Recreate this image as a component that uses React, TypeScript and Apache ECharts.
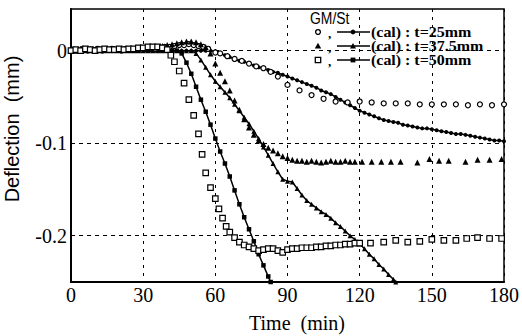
import React, { useEffect, useRef } from "react";
import * as echarts from "echarts";

const xTicks = [0, 30, 60, 90, 120, 150, 180];
const yGridValues = [0, -0.1, -0.2];
const legendLabels = ["(cal) : t=25mm", "(cal) : t=37.5mm", "(cal) : t=50mm"];
const legendTitle = "GM/St";
const xName = "Time  (min)";
const yName = "Deflection  (mm)";

// measured, t = 25 mm (open circles)
const exp25: [number, number][] = [
  [1, 0.001], [3, 0], [5, 0.002], [7, 0], [9, 0.001], [11, 0.002], [13, 0], [15, 0.001], [17, 0.002], [19, 0.001],
  [21, 0], [23, 0.002], [25, 0.001], [27, 0.002], [29, 0.001], [31, 0.002], [33, 0.003], [35, 0.002], [37, 0.003], [39, 0.004],
  [41, 0.004], [43, 0.005], [45, 0.006], [47, 0.006], [49, 0.007], [51, 0.006], [53, 0.005], [55, 0.004], [57, 0.002], [60, -0.002],
  [62, -0.003], [65, -0.006], [68, -0.009], [71, -0.011], [74, -0.014], [77, -0.017], [80, -0.019], [83, -0.023], [86, -0.028],
  [90, -0.037], [95, -0.043], [100, -0.048], [105, -0.052], [110, -0.055], [115, -0.056], [120, -0.055], [125, -0.056],
  [130, -0.057], [135, -0.057], [140, -0.057], [145, -0.058], [150, -0.058], [155, -0.058], [160, -0.058], [165, -0.059],
  [170, -0.058], [175, -0.059], [180, -0.058],
];

// calculated, t = 25 mm
const cal25: [number, number][] = [
  [0, 0], [2, 0], [4, 0], [6, 0], [8, 0], [10, 0], [12, 0], [14, 0], [16, 0], [18, 0], [20, 0], [22, 0], [24, 0], [26, 0],
  [28, 0], [30, 0], [32, 0], [34, 0], [36, 0], [38, 0], [40, 0], [42, 0], [44, 0], [46, 0], [48, 0], [50, 0], [52, 0], [54, 0],
  [56, 0], [58, 0], [60, -0.001], [62, -0.003], [64, -0.005], [66, -0.007], [68, -0.009], [70, -0.011], [72, -0.012],
  [74, -0.014], [76, -0.016], [78, -0.018], [80, -0.019], [82, -0.021], [84, -0.023], [86, -0.024], [88, -0.026],
  [90, -0.028], [92, -0.03], [94, -0.032], [96, -0.034], [98, -0.036], [100, -0.038], [102, -0.04], [104, -0.043],
  [106, -0.045], [108, -0.047], [110, -0.05], [112, -0.053], [114, -0.056], [116, -0.059], [118, -0.062], [120, -0.065],
  [122, -0.067], [124, -0.069], [126, -0.071], [128, -0.073], [130, -0.075], [132, -0.076], [134, -0.077], [136, -0.078],
  [138, -0.08], [140, -0.081], [142, -0.082], [144, -0.083], [146, -0.084], [148, -0.084], [150, -0.085], [152, -0.086],
  [154, -0.087], [156, -0.088], [158, -0.089], [160, -0.09], [162, -0.09], [164, -0.091], [166, -0.092], [168, -0.093],
  [170, -0.094], [172, -0.095], [174, -0.096], [176, -0.097], [178, -0.097], [180, -0.098],
];

// measured, t = 37.5 mm (filled triangles)
const exp375: [number, number][] = [
  [0, 0.001], [2, 0], [4, 0.002], [6, 0.001], [8, 0.002], [10, 0.001], [12, 0.002], [14, 0.001], [16, 0.001], [18, 0.002],
  [20, 0.001], [22, 0.002], [24, 0.002], [26, 0.001], [28, 0.002], [30, 0.003], [32, 0.003], [34, 0.004], [36, 0.004],
  [38, 0.005], [40, 0.006], [42, 0.007], [44, 0.008], [46, 0.009], [48, 0.01], [50, 0.01], [52, 0.009], [54, 0.007],
  [56, 0.004], [58, -0.003], [60, -0.014], [62, -0.024], [64, -0.033], [66, -0.043], [68, -0.054], [70, -0.064],
  [72, -0.074], [74, -0.083], [76, -0.091], [78, -0.097], [80, -0.101], [82, -0.105], [84, -0.108], [86, -0.111],
  [88, -0.114], [90, -0.116], [92, -0.118], [94, -0.119], [96, -0.119], [98, -0.12], [100, -0.119], [102, -0.12],
  [104, -0.121], [106, -0.12], [108, -0.119], [110, -0.12], [112, -0.12], [114, -0.119], [116, -0.12], [118, -0.12],
  [121, -0.12], [125, -0.12], [129, -0.12], [133, -0.12], [137, -0.12], [144, -0.121], [149, -0.117], [153, -0.119],
  [157, -0.119], [164, -0.12], [169, -0.118], [174, -0.118], [179, -0.117],
];

// calculated, t = 37.5 mm
const cal375: [number, number][] = [
  [0, 0], [2, 0], [4, 0], [6, 0], [8, 0], [10, 0], [12, 0], [14, 0], [16, 0], [18, 0], [20, 0], [22, 0], [24, 0], [26, 0],
  [28, 0], [30, 0], [32, 0], [34, 0], [36, 0], [38, 0], [40, 0], [42, 0], [44, 0], [46, 0], [48, 0], [50, 0],
  [52, -0.003], [54, -0.01], [56, -0.018], [58, -0.026], [60, -0.033], [62, -0.039], [64, -0.045], [66, -0.051],
  [68, -0.058], [70, -0.065], [72, -0.072], [74, -0.079], [76, -0.087], [78, -0.095], [80, -0.104], [82, -0.113],
  [84, -0.122], [86, -0.131], [88, -0.139], [90, -0.141], [92, -0.142], [94, -0.149], [96, -0.156], [98, -0.162],
  [100, -0.166], [102, -0.17], [104, -0.174], [106, -0.177], [108, -0.181], [110, -0.186], [112, -0.19], [114, -0.195],
  [116, -0.2], [118, -0.204], [120, -0.209], [122, -0.214], [124, -0.22], [126, -0.225], [128, -0.231], [130, -0.236],
  [132, -0.242], [134, -0.247], [135, -0.25],
];

// measured, t = 50 mm (open squares)
const exp50: [number, number][] = [
  [0, 0], [2, 0.001], [4, 0], [6, 0.002], [8, 0.001], [10, 0], [12, 0.001], [14, 0.002], [16, 0.001], [18, 0.001],
  [20, 0.002], [22, 0.001], [24, 0.002], [26, 0.002], [28, 0.003], [30, 0.003], [32, 0.004], [34, 0.004], [36, 0.004],
  [38, 0.003], [40, 0.001], [41.5, -0.005], [43, -0.012], [45, -0.022], [47, -0.035], [49, -0.053], [51, -0.07],
  [53, -0.09], [54.5, -0.112], [56, -0.132], [58, -0.148], [60, -0.16], [61.5, -0.171], [63, -0.181], [64.5, -0.19],
  [66, -0.196], [68, -0.202], [70, -0.207], [72, -0.21], [74, -0.212], [76, -0.214], [78, -0.216], [80, -0.215],
  [82, -0.214], [84, -0.214], [86, -0.216], [88, -0.218], [90, -0.215], [92, -0.214], [94, -0.214], [96, -0.213],
  [98, -0.213], [100, -0.213], [102, -0.212], [104, -0.212], [106, -0.211], [108, -0.211], [110, -0.21], [112, -0.21],
  [114, -0.209], [116, -0.209], [118, -0.208], [120, -0.208], [124.5, -0.208], [130, -0.207], [135, -0.205],
  [140, -0.207], [145, -0.206], [150, -0.204], [155, -0.205], [160, -0.205], [164.5, -0.203], [169, -0.202],
  [174, -0.203], [179, -0.203],
];

// calculated, t = 50 mm
const cal50: [number, number][] = [
  [0, 0], [2, 0], [4, 0], [6, 0], [8, 0], [10, 0], [12, 0], [14, 0], [16, 0], [18, 0], [20, 0], [22, 0], [24, 0], [26, 0],
  [28, 0], [30, 0], [32, 0], [34, 0], [36, 0], [38, 0], [40, 0], [42, 0], [44, 0], [46, -0.003], [48, -0.013],
  [50, -0.025], [52, -0.039], [54, -0.053], [56, -0.066], [58, -0.08], [60, -0.095], [62, -0.109], [64, -0.122],
  [66, -0.136], [68, -0.151], [70, -0.166], [72, -0.18], [74, -0.193], [76, -0.206], [78, -0.22], [80, -0.232],
  [82, -0.244], [83, -0.25],
];

const SERIF = '"Liberation Serif", "Times New Roman", serif';
const SANS = '"Liberation Sans", Arial, sans-serif';

export default function App() {
  const ref = useRef<HTMLDivElement>(null);

  useEffect(() => {
    if (!ref.current) return;
    const chart = echarts.init(ref.current, null, { renderer: "svg" });

    const rowY = [32, 46, 60];
    const symX = 318;
    const lineX1 = 337;
    const lineX2 = 370;
    const mkX = 353;
    const legendGraphics: any[] = [
      {
        type: "text",
        x: 310,
        y: 18,
        scaleX: 0.82,
        style: { text: legendTitle, font: `17px ${SANS}`, fill: "#000", align: "left", verticalAlign: "middle" },
      },
    ];
    rowY.forEach((y, i) => {
      if (i === 0) {
        legendGraphics.push({ type: "circle", shape: { cx: symX, cy: y, r: 2.4 }, style: { fill: "#fff", stroke: "#000", lineWidth: 1.3 } });
      } else if (i === 1) {
        legendGraphics.push({ type: "polygon", shape: { points: [[symX, y - 3.2], [symX + 3.2, y + 2.6], [symX - 3.2, y + 2.6]] }, style: { fill: "#000" } });
      } else {
        legendGraphics.push({ type: "rect", shape: { x: symX - 2.7, y: y - 2.7, width: 5.4, height: 5.4 }, style: { fill: "#fff", stroke: "#000", lineWidth: 1.3 } });
      }
      legendGraphics.push({ type: "text", x: 328, y: y + 1, style: { text: ",", font: `bold 13px ${SERIF}`, fill: "#000", verticalAlign: "middle" } });
      legendGraphics.push({ type: "line", shape: { x1: lineX1, y1: y, x2: lineX2, y2: y }, style: { stroke: "#000", lineWidth: 1.3 } });
      if (i === 0) {
        legendGraphics.push({ type: "circle", shape: { cx: mkX, cy: y, r: 2.4 }, style: { fill: "#000" } });
      } else if (i === 1) {
        legendGraphics.push({ type: "polygon", shape: { points: [[mkX, y - 3], [mkX + 3, y + 2.4], [mkX - 3, y + 2.4]] }, style: { fill: "#000" } });
      } else {
        legendGraphics.push({ type: "rect", shape: { x: mkX - 2.4, y: y - 2.4, width: 4.8, height: 4.8 }, style: { fill: "#000" } });
      }
      legendGraphics.push({
        type: "text",
        x: 371,
        y: y,
        scaleX: 1.1,
        style: { text: legendLabels[i], font: `bold 14.5px ${SERIF}`, fill: "#000", align: "left", verticalAlign: "middle" },
      });
    });

    const option: any = {
      animation: false,
      backgroundColor: "#fff",
      grid: { left: 71, right: 16, top: 9, bottom: 54, show: true, borderColor: "#000", borderWidth: 1.5 },
      xAxis: {
        type: "value",
        min: xTicks[0],
        max: xTicks[xTicks.length - 1],
        interval: 30,
        axisLine: { show: true, onZero: false, lineStyle: { color: "#000", width: 2 } },
        axisTick: { show: false },
        axisLabel: { color: "#000", fontSize: 20, fontFamily: SERIF, margin: 3 },
        splitLine: { show: true, lineStyle: { color: "#000", width: 1, type: [3, 5] } },
      },
      yAxis: {
        type: "value",
        min: -0.25,
        max: 0.045,
        interval: 0.05,
        axisLine: { show: true, onZero: false, lineStyle: { color: "#000", width: 2 } },
        axisTick: { show: false },
        splitLine: { show: false },
        axisLabel: {
          color: "#000",
          fontSize: 20,
          fontFamily: SERIF,
          margin: 4,
          formatter: (v: number) => {
            const k = Math.round(v * 10);
            if (Math.abs(v * 10 - k) > 1e-6) return "";
            const val = k / 10;
            return yGridValues.indexOf(val) >= 0 || k === 0 ? (k === 0 ? "0" : String(val)) : "";
          },
        },
      },
      graphic: [
        {
          type: "text",
          x: 12,
          y: 129,
          rotation: Math.PI / 2,
          style: { text: yName, font: `20px ${SANS}`, fill: "#000", align: "center", verticalAlign: "middle" },
        },
        {
          type: "text",
          x: 297,
          y: 323,
          style: { text: xName, font: `20px ${SERIF}`, fill: "#000", align: "center", verticalAlign: "middle" },
        },
        ...legendGraphics,
      ],
      series: [
        {
          type: "line",
          data: cal25,
          symbol: "circle",
          symbolSize: 4,
          showSymbol: true,
          itemStyle: { color: "#000" },
          lineStyle: { color: "#000", width: 1.5 },
          z: 3,
          markLine: {
            silent: true,
            symbol: ["none", "none"],
            label: { show: false },
            lineStyle: { color: "#000", width: 1, type: [4, 4] },
            data: yGridValues.map((v) => ({ yAxis: v })),
            z: 1,
          },
        },
        {
          type: "line",
          data: cal375,
          symbol: "triangle",
          symbolSize: 5,
          showSymbol: true,
          itemStyle: { color: "#000" },
          lineStyle: { color: "#000", width: 1.5 },
          z: 3,
        },
        {
          type: "line",
          data: cal50,
          symbol: "rect",
          symbolSize: 4.5,
          showSymbol: true,
          itemStyle: { color: "#000" },
          lineStyle: { color: "#000", width: 1.5 },
          z: 3,
        },
        {
          type: "scatter",
          data: exp25,
          symbol: "circle",
          symbolSize: 5,
          itemStyle: { color: "#fff", borderColor: "#000", borderWidth: 1.2, opacity: 1 },
          z: 4,
        },
        {
          type: "scatter",
          data: exp375,
          symbol: "triangle",
          symbolSize: 6,
          itemStyle: { color: "#000", opacity: 1 },
          z: 4,
        },
        {
          type: "scatter",
          data: exp50,
          symbol: "rect",
          symbolSize: 5.5,
          itemStyle: { color: "#fff", borderColor: "#000", borderWidth: 1.2, opacity: 1 },
          z: 4,
        },
      ],
    };

    chart.setOption(option);
    return () => chart.dispose();
  }, []);

  return (
    <div
      ref={ref}
      style={{ position: "absolute", left: 0, top: 0, width: 522, height: 336, background: "#fff" }}
    />
  );
}
